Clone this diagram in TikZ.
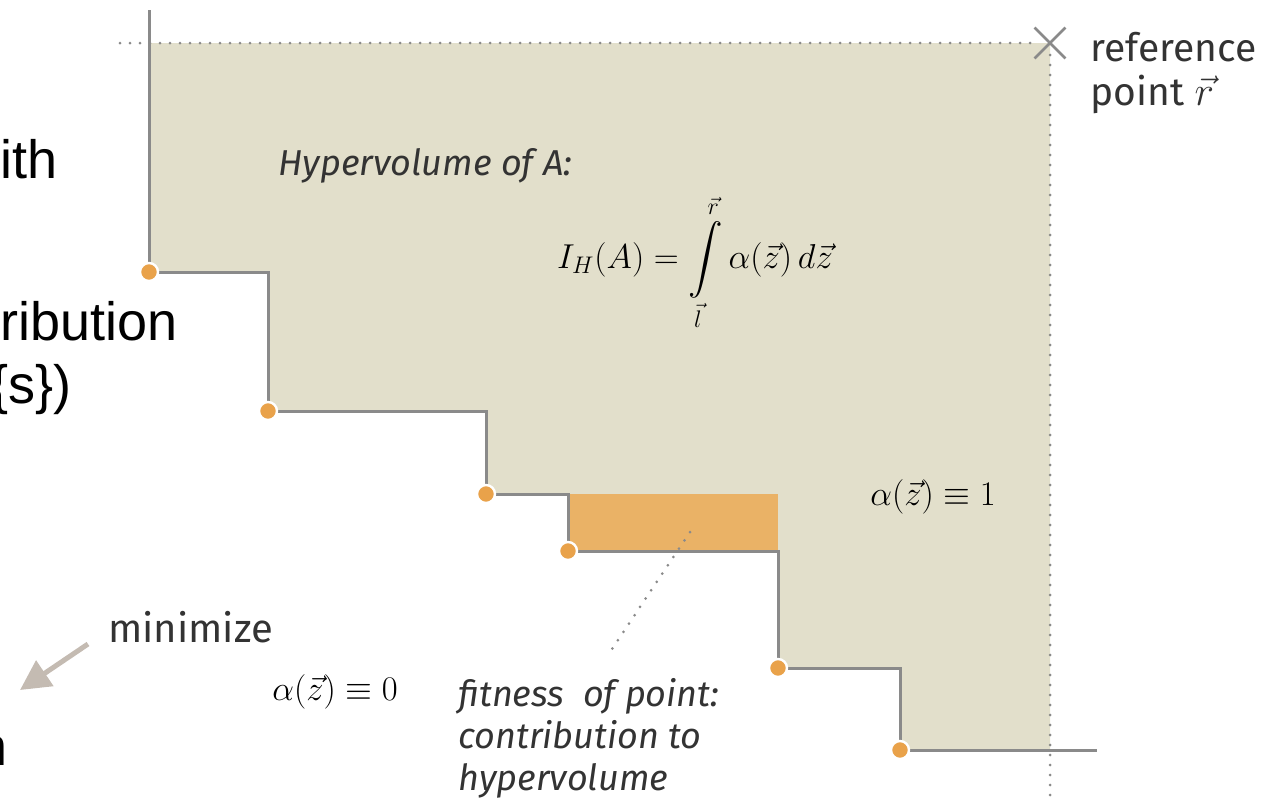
\documentclass[tikz,border=0pt]{standalone}
\usepackage{fontspec}
\setmainfont{Liberation Sans}
\newfontfamily\diagfont{Fira Sans}
\usepackage{amsmath}
\usetikzlibrary{positioning,arrows.meta}

\definecolor{hvfill}{HTML}{E2DFCB}
\definecolor{contribfill}{HTML}{EAB266}
\definecolor{ptorange}{HTML}{E9A24A}
\definecolor{stairgray}{HTML}{8A8A8A}
\definecolor{labelgray}{HTML}{333333}
\definecolor{arrowtan}{HTML}{C4BBB2}

\begin{document}
\begin{tikzpicture}[
      x=0.5pt, y=-0.5pt,
      stair/.style={draw=stairgray, line width=1.5pt},
      dotline/.style={draw=stairgray, line width=1.5pt, line cap=round, dash pattern=on 0pt off 5pt},
      point/.style={circle, fill=ptorange, draw=white, line width=1.2pt, inner sep=0pt, minimum size=9pt},
      label/.style={font=\diagfont\fontsize{18}{21}\selectfont, text=labelgray, inner sep=0pt, align=left},
      slide/.style={font=\fontsize{27}{32}\selectfont, text=black, inner sep=0pt},
      arrow/.style={-{Triangle[length=15pt, width=15pt]}, draw=arrowtan, line width=2.5pt}
    ]
    \clip (0,0) rectangle (1268,804);

    % non-dominated points
    \coordinate (p1) at (149,272);
    \coordinate (p2) at (268,411);
    \coordinate (p3) at (486,494);
    \coordinate (p4) at (568,551);
    \coordinate (p5) at (778,668);
    \coordinate (p6) at (900,750);
    \coordinate (ref) at (1050,43);

    % dominated region and contribution of p4
    \fill[hvfill] (149,43) -- (p1) -| (p2) -| (p3) -| (p4) -| (p5) -| (p6) -| (ref) -- cycle;
    \fill[contribfill] (568,494) rectangle (778,551);

    % bounds
    \draw[dotline] (120,43) -- (1038,43);
    \draw[dotline] (1050,55) -- (1050,804);
    \node[inner sep=0pt, minimum size=15pt] (refmark) at (ref) {};
    \draw[draw=stairgray, line width=1.3pt] (refmark.north west) -- (refmark.south east)
      (refmark.south west) -- (refmark.north east);

    % staircase
    \draw[stair] (149,10) -- (p1) -| (p2) -| (p3) -| (p4) -| (p5) -| (p6) -- (1097,750);
    \foreach \p in {p1,p2,p3,p4,p5,p6}
      \node[point] at (\p) {};

    % labels
    \node[label, anchor=base west, font=\diagfont\fontsize{19.5}{22}\selectfont] (reflabel) at (1090,105)
      {reference\\point $\vec{r}$};
    \node[label, anchor=base west, font=\diagfont\itshape\fontsize{18}{21}\selectfont] (hvtitle) at (278,175)
      {Hypervolume of A:};
    \node[label, text=black, font=\fontsize{18}{21}\selectfont] (formula) at (695,262)
      {$\displaystyle I_H(A)=\int\limits_{\vec{l}}^{\vec{r}}\alpha(\vec{z})\,d\vec{z}$};
    \node[label, text=black, anchor=base west, font=\fontsize{18}{21}\selectfont] (alphaone) at (870,505)
      {$\alpha(\vec{z})\equiv 1$};
    \node[label, text=black, anchor=base west, font=\fontsize{18}{21}\selectfont] (alphazero) at (272,700)
      {$\alpha(\vec{z})\equiv 0$};
    \node[label, anchor=base west, font=\diagfont\itshape\fontsize{18}{21}\selectfont] (fitness) at (458,790)
      {fitness\ \ of point:\\contribution to\\hypervolume};
    \node[label, anchor=base west, font=\diagfont\fontsize{20}{24}\selectfont] (minimize) at (108,642)
      {minimize};

    % leader and direction arrow
    \coordinate (leadstart) at (690,532);
    \coordinate (leadend) at (610,652);
    \draw[dotline] (leadstart) -- (leadend);
    \coordinate (minstart) at (88,644);
    \coordinate (minend) at (20,690);
    \draw[arrow] (minstart) -- (minend);

    % slide text cut by the crop
    \node[slide, anchor=base east] (txtone) at (58,178) {ith};
    \node[slide, anchor=base east] (txttwo) at (178,340) {ribution};
    \node[slide, anchor=base east] (txtthree) at (72,403) {\{s\})};
    \node[slide, anchor=base east] (txtfour) at (8,765) {n};
  \end{tikzpicture}
\end{document}
